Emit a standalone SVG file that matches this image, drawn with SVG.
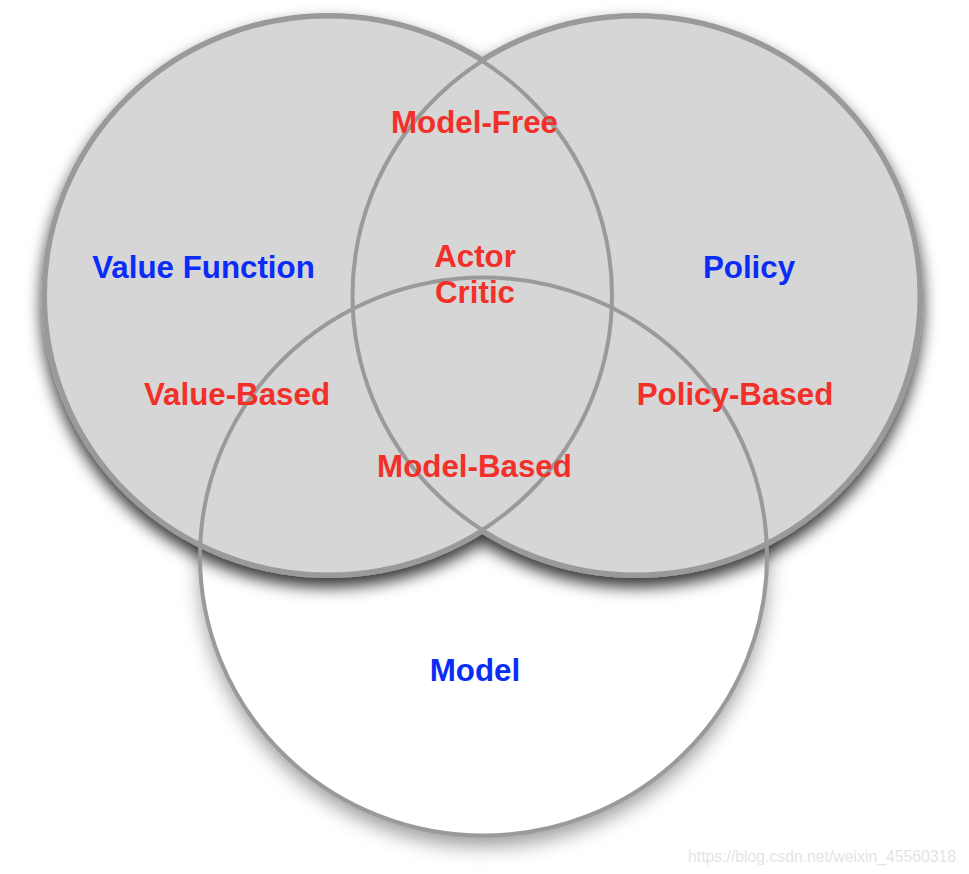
<svg xmlns="http://www.w3.org/2000/svg" width="969" height="874" viewBox="0 0 969 874">
  <style>
    .lbl { font-family: "Liberation Sans", Arial, Helvetica, sans-serif; font-weight: bold; font-size: 31.3px; text-anchor: middle; }
    .red { fill: #f2302a; }
    .blue { fill: #0b2cf6; }
    .fill-gray { fill: #d6d6d6; stroke: none; }
    .outline { fill: #d6d6d6; stroke: #9a9a9a; stroke-width: 7; }
    .ring { fill: none; stroke: #9a9a9a; stroke-width: 4; }
    .wm { font-family: "Liberation Sans", Arial, sans-serif; font-size: 17px; fill: #e4e4e4; }
  </style>
  <defs>
    <filter id="shadowSoft" x="-20%" y="-20%" width="140%" height="140%">
      <feDropShadow dx="0" dy="10" stdDeviation="10" flood-color="#000" flood-opacity="0.4"/>
    </filter>
    <filter id="shadowDark" x="-20%" y="-20%" width="140%" height="140%">
      <feDropShadow dx="0" dy="9" stdDeviation="8" flood-color="#000" flood-opacity="0.8"/>
    </filter>
  </defs>

  <g id="model-circle-base">
    <ellipse cx="483.5" cy="556.5" rx="283.5" ry="279" fill="#ffffff" filter="url(#shadowSoft)"/>
  </g>

  <g id="top-union" filter="url(#shadowDark)">
    <ellipse class="outline" cx="328.5" cy="295.5" rx="283.5" ry="279"/>
    <ellipse class="outline" cx="636" cy="295.5" rx="283.5" ry="279"/>
    <ellipse class="fill-gray" cx="328.5" cy="295.5" rx="283.5" ry="279"/>
    <ellipse class="fill-gray" cx="636" cy="295.5" rx="283.5" ry="279"/>
  </g>

  <g id="rings">
    <ellipse id="value-function-ring" class="ring" cx="328.5" cy="295.5" rx="283.5" ry="279"/>
    <ellipse id="policy-ring" class="ring" cx="636" cy="295.5" rx="283.5" ry="279"/>
    <ellipse id="model-ring" class="ring" cx="483.5" cy="556.5" rx="283.5" ry="279"/>
  </g>

  <g id="value-function"><text class="lbl blue" x="203.5" y="278">Value Function</text></g>
  <g id="policy"><text class="lbl blue" x="749" y="278">Policy</text></g>
  <g id="model"><text class="lbl blue" x="475" y="681">Model</text></g>
  <g id="model-free"><text class="lbl red" x="474.5" y="133">Model-Free</text></g>
  <g id="actor-critic">
    <text class="lbl red" x="475" y="267">Actor</text>
    <text class="lbl red" x="475" y="303">Critic</text>
  </g>
  <g id="value-based"><text class="lbl red" x="237" y="405">Value-Based</text></g>
  <g id="policy-based"><text class="lbl red" x="735" y="405">Policy-Based</text></g>
  <g id="model-based"><text class="lbl red" x="474.5" y="477">Model-Based</text></g>

  <text class="wm" x="688" y="862" textLength="268" lengthAdjust="spacingAndGlyphs">https://blog.csdn.net/weixin_45560318</text>
</svg>
